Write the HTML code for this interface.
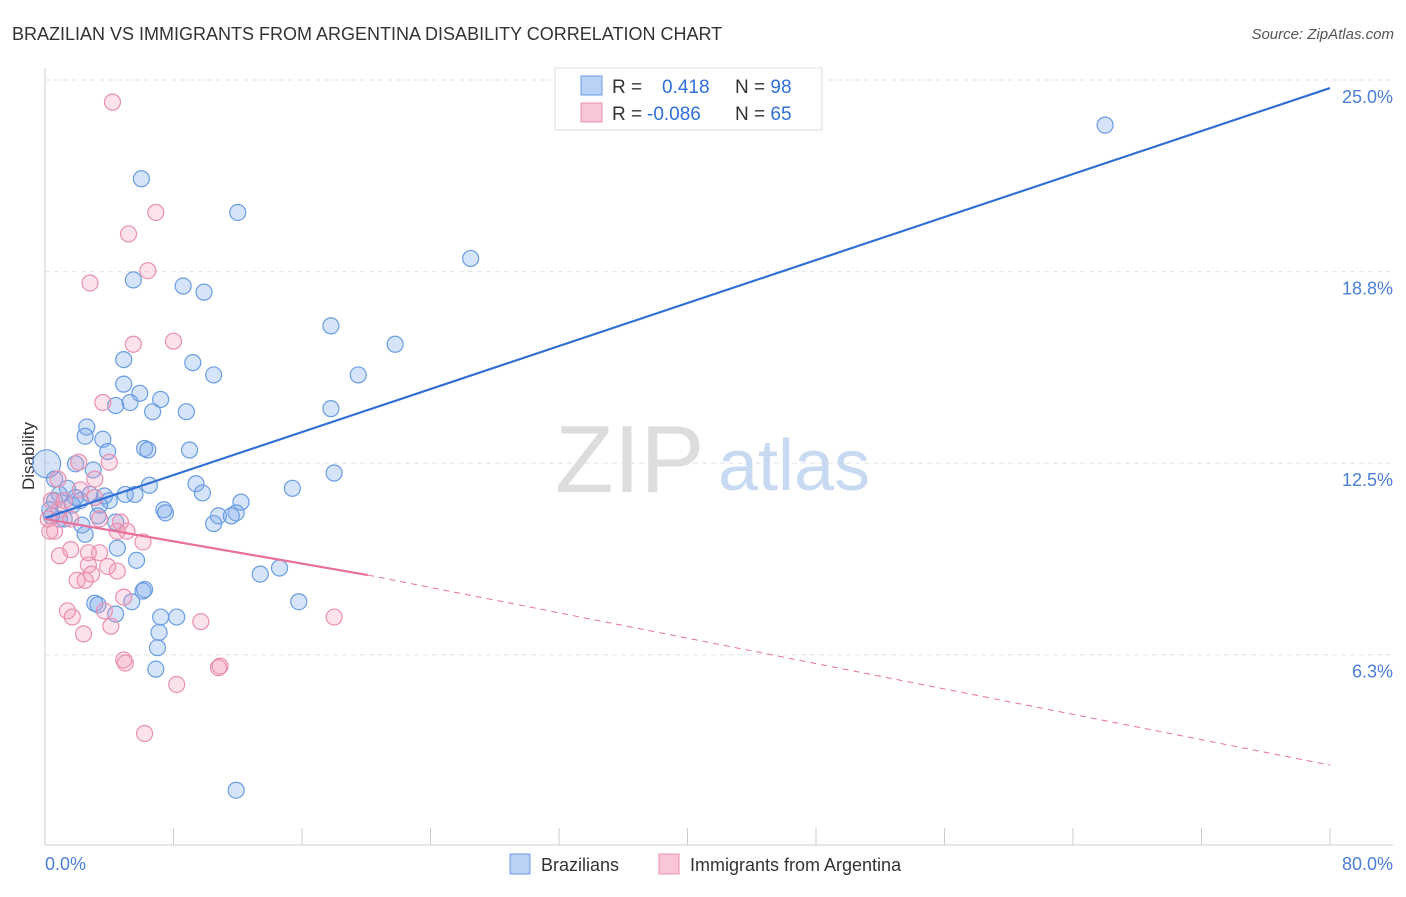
<!DOCTYPE html>
<html><head><meta charset="utf-8">
<style>
body{margin:0;background:#fff;font-family:"Liberation Sans",sans-serif;}
svg text{font-family:"Liberation Sans",sans-serif;}
</style></head>
<body>
<svg width="1406" height="892" viewBox="0 0 1406 892" xmlns="http://www.w3.org/2000/svg">
<text x="12" y="40" font-size="18" fill="#333">BRAZILIAN VS IMMIGRANTS FROM ARGENTINA DISABILITY CORRELATION CHART</text>
<text x="1394" y="39" font-size="15" fill="#555" font-style="italic" text-anchor="end">Source: ZipAtlas.com</text>
<g id="grid"></g>
<g>
<text x="555" y="492" font-size="96" fill="#ddd" font-family="Liberation Serif,serif">ZIP</text>
<text x="718" y="490" font-size="72" fill="#c8daf2">atlas</text>
</g>
<line x1="45" y1="68" x2="45" y2="845" stroke="#ccc"/>
<line x1="45" y1="845" x2="1393" y2="845" stroke="#ccc"/>
<g id="xticks"></g>
<g id="ylabels"></g>
<text x="45" y="870" font-size="18" fill="#4a7fd4">0.0%</text>
<text x="1393" y="870" font-size="18" fill="#4a7fd4" text-anchor="end">80.0%</text>
<text transform="translate(34,456) rotate(-90)" font-size="17" fill="#333" text-anchor="middle">Disability</text>
<g id="pts"></g>
<g id="lines"></g>
<g>
<rect x="555" y="68" width="267" height="62" fill="#fff" stroke="#ddd"/>
<rect x="581" y="76" width="21" height="19" fill="#b9d2f5" stroke="#6a9de0"/>
<rect x="581" y="103" width="21" height="19" fill="#f9c6d6" stroke="#e890b0"/>
<text x="612" y="93" font-size="19" fill="#333">R = <tspan fill="#2f6fd6" x="662">0.418</tspan><tspan x="735" fill="#333">N = </tspan><tspan fill="#2f6fd6">98</tspan></text>
<text x="612" y="120" font-size="19" fill="#333">R = <tspan fill="#2f6fd6" x="647">-0.086</tspan><tspan x="735" fill="#333">N = </tspan><tspan fill="#2f6fd6">65</tspan></text>
</g>
<g>
<rect x="510" y="854" width="20" height="20" fill="#b9d2f5" stroke="#6a9de0"/>
<text x="541" y="871" font-size="18" fill="#333">Brazilians</text>
<rect x="659" y="854" width="20" height="20" fill="#f9c6d6" stroke="#e890b0"/>
<text x="690" y="871" font-size="18" fill="#333">Immigrants from Argentina</text>
</g>
</svg>
<script>
const yTicks=[25,18.75,12.5,6.25];
const yTickLabels=["25.0%","18.8%","12.5%","6.3%"];
const xTicks=[0,8,16,24,32,40,48,56,64,72,80];
const blueX=[66.0,6.0,12.0,26.5,5.5,8.6,9.9,17.8,21.8,4.9,9.2,19.5,10.5,4.9,5.9,7.2,4.4,5.3,6.7,8.8,17.8,2.6,2.5,3.6,6.2,6.4,9.0,3.9,1.9,3.0,18.0,6.5,9.4,9.8,15.4,5.0,5.6,12.2,7.4,7.5,11.9,10.8,11.6,10.5,3.7,1.9,0.9,0.6,0.3,1.2,2.3,4.4,3.3,2.5,4.5,5.7,13.4,14.6,6.2,6.1,5.4,3.1,3.3,15.8,4.4,7.2,8.2,7.1,7.0,6.9,11.9,0.1,0.6,1.4,1.7,2.2,2.8,0.9,0.4,3.4,4.0];
const blueY=[24.05,22.3,21.2,19.7,19.0,18.8,18.6,17.5,16.9,16.4,16.3,15.9,15.9,15.6,15.3,15.1,14.9,15.0,14.7,14.7,14.8,14.2,13.9,13.8,13.5,13.45,13.45,13.4,13.0,12.8,12.7,12.3,12.35,12.05,12.2,12.0,12.0,11.75,11.5,11.4,11.4,11.3,11.3,11.05,11.95,11.9,12.0,11.8,11.5,11.2,11.0,11.1,11.3,10.7,10.25,9.85,9.4,9.6,8.9,8.85,8.5,8.45,8.4,8.5,8.1,8.0,8.0,7.5,7.0,6.3,2.35,13.0,12.5,12.2,11.65,11.8,12.0,11.2,11.3,11.65,11.8];
const pinkX=[4.2,6.9,5.2,6.4,2.8,5.5,8.0,3.6,2.1,4.0,3.1,0.8,0.4,0.9,1.6,0.6,3.4,4.7,4.5,5.1,6.1,1.6,2.7,3.4,0.9,2.7,3.9,4.5,2.0,2.5,2.9,3.7,4.9,1.4,1.7,2.4,4.1,9.7,18.0,4.9,5.0,10.9,10.8,8.2,6.2,0.2,0.3,1.2,2.2,3.1];
const pinkY=[24.8,21.2,20.5,19.3,18.9,16.9,17.0,15.0,13.05,13.05,12.5,12.5,11.8,11.5,11.2,10.8,11.2,11.1,10.8,10.8,10.45,10.2,10.1,10.1,10.0,9.7,9.65,9.5,9.2,9.2,9.4,8.2,8.65,8.2,8.0,7.45,7.7,7.85,8.0,6.6,6.5,6.4,6.35,5.8,4.2,11.2,10.8,11.8,12.15,11.9];
const blueTrend=[[0,11.23],[80,25.26]];
const pinkTrendSolid=[[0,11.2],[20.1,9.37]];
const pinkTrendDash=[[20.1,9.37],[80,3.17]];
const NS="http://www.w3.org/2000/svg";
const xs=v=>45+v*(1330-45)/80;
const ys=v=>96+(25-v)*30.65;
function mk(t,a,p){const e=document.createElementNS(NS,t);for(const k in a)e.setAttribute(k,a[k]);p.appendChild(e);return e;}
const grid=document.getElementById('grid'),yl=document.getElementById('ylabels'),xt=document.getElementById('xticks');
yTicks.forEach((v,i)=>{
 const l=mk('line',{x1:45,x2:1393,y1:ys(v)-16,y2:ys(v)-16,stroke:'#e4e4e4','stroke-dasharray':'5,4'},grid);
 
 
 const t=mk('text',{x:1393,y:ys(v)+7,'font-size':18,fill:'#4a7fd4','text-anchor':'end'},yl);
 t.textContent=yTickLabels[i];
 
 
});
xTicks.forEach(v=>{
 const l=mk('line',{x1:xs(v),x2:xs(v),y1:828,y2:845,stroke:'#ccc'},xt);
 
 
});
const pts=document.getElementById('pts');
blueX.forEach((x,i)=>{
 const c=mk('circle',{cx:xs(x),cy:ys(blueY[i]),r:i==71?14:8,fill:'rgba(120,165,235,0.3)',stroke:'#6a9de0','stroke-width':1.2},pts);
 
 
});
pinkX.forEach((x,i)=>{
 const c=mk('circle',{cx:xs(x),cy:ys(pinkY[i]),r:8,fill:'rgba(245,150,180,0.28)',stroke:'#e890b0','stroke-width':1.2},pts);
 
 
});
const lg=document.getElementById('lines');
function ln(d,st,w,dash,name){const l=mk('line',{x1:xs(d[0][0]),y1:ys(d[0][1]),x2:xs(d[1][0]),y2:ys(d[1][1]),stroke:st,'stroke-width':w},lg);if(dash)l.setAttribute('stroke-dasharray',dash);
 
 }
ln(blueTrend,'#2f6fd6',2.2,null,'brazilian-trend-line');
ln(pinkTrendSolid,'#e8709a',2.2,null,'argentina-trend-line');
ln(pinkTrendDash,'#e8709a',1,'6,5','argentina-trend-extension');
</script>
</body></html>
